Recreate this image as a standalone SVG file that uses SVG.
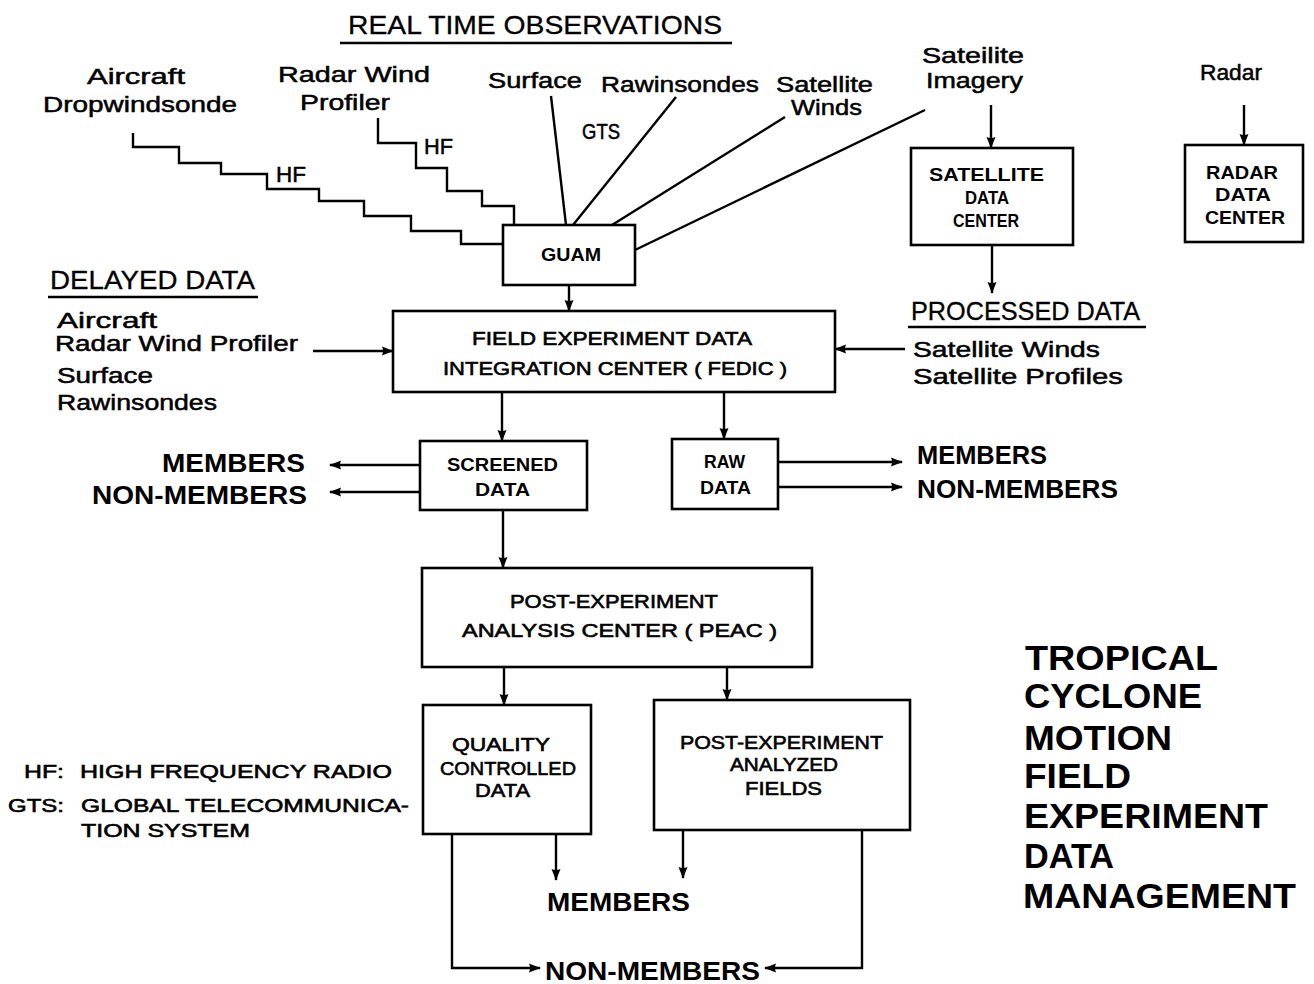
<svg xmlns="http://www.w3.org/2000/svg" width="1314" height="984" viewBox="0 0 1314 984">
  <defs>
    <marker id="arrow" viewBox="0 0 12 10" refX="11" refY="5" markerWidth="12" markerHeight="10" markerUnits="userSpaceOnUse" orient="auto">
      <path d="M0,0.5 Q6,3 12,5 Q6,7 0,9.5 Q2,5 0,0.5 Z" fill="#000"/>
    </marker>
    <style>
      .box { fill: #fff; stroke: #000; stroke-width: 2.6; }
      .ln { fill: none; stroke: #000; stroke-width: 2.4; stroke-linejoin: miter; }
      .arr { fill: none; stroke: #000; stroke-width: 2.4; marker-end: url(#arrow); }
      text { font-family: "Liberation Sans", "DejaVu Sans", sans-serif; fill: #000; }
      .lbl { font-size: 22px; stroke: #000; stroke-width: 0.5; }
      .hd { font-size: 26px; stroke: #000; stroke-width: 0.3; }
      .bx { font-size: 18px; font-weight: bold; }
      .bx2 { font-size: 19px; stroke: #000; stroke-width: 0.6; }
      .mem { font-size: 25px; font-weight: bold; }
      .leg { font-size: 19px; stroke: #000; stroke-width: 0.6; }
      .big { font-size: 35px; font-weight: bold; }
    </style>
  </defs>
  <rect width="1314" height="984" fill="#fff"/>

  <!-- headings -->
  <g id="headings">
    <text class="hd" x="348" y="34" textLength="374" lengthAdjust="spacingAndGlyphs">REAL TIME OBSERVATIONS</text>
    <line class="ln" x1="340" y1="43" x2="732" y2="43"/>
    <text class="hd" x="50" y="289" textLength="205" lengthAdjust="spacingAndGlyphs">DELAYED DATA</text>
    <line class="ln" x1="48" y1="297" x2="258" y2="297"/>
    <text class="hd" x="911" y="320" textLength="229" lengthAdjust="spacingAndGlyphs">PROCESSED DATA</text>
    <line class="ln" x1="908" y1="327" x2="1146" y2="327"/>
  </g>

  <!-- observation sources and link labels -->
  <g id="sources">
    <text class="lbl" x="87" y="84" textLength="98" lengthAdjust="spacingAndGlyphs">Aircraft</text>
    <text class="lbl" x="43" y="112" textLength="194" lengthAdjust="spacingAndGlyphs">Dropwindsonde</text>
    <text class="lbl" x="278" y="82" textLength="152" lengthAdjust="spacingAndGlyphs">Radar  Wind</text>
    <text class="lbl" x="300" y="110" textLength="90" lengthAdjust="spacingAndGlyphs">Profiler</text>
    <text class="lbl" x="488" y="88" textLength="94" lengthAdjust="spacingAndGlyphs">Surface</text>
    <text class="lbl" x="601" y="92" textLength="158" lengthAdjust="spacingAndGlyphs">Rawinsondes</text>
    <text class="lbl" x="776" y="92" textLength="97" lengthAdjust="spacingAndGlyphs">Satellite</text>
    <text class="lbl" x="791" y="115" textLength="71" lengthAdjust="spacingAndGlyphs">Winds</text>
    <text class="lbl" x="922" y="63" textLength="102" lengthAdjust="spacingAndGlyphs">Sateilite</text>
    <text class="lbl" x="926" y="88" textLength="97" lengthAdjust="spacingAndGlyphs">Imagery</text>
    <text class="lbl" x="1200" y="80" textLength="62" lengthAdjust="spacingAndGlyphs">Radar</text>
    <text class="lbl" x="276" y="182" textLength="30" lengthAdjust="spacingAndGlyphs">HF</text>
    <text class="lbl" x="424" y="154" textLength="29" lengthAdjust="spacingAndGlyphs">HF</text>
    <text class="lbl" x="582" y="139" textLength="38" lengthAdjust="spacingAndGlyphs">GTS</text>

    <text class="lbl" x="57" y="328" textLength="100" lengthAdjust="spacingAndGlyphs">Aircraft</text>
    <text class="lbl" x="55" y="351" textLength="243" lengthAdjust="spacingAndGlyphs">Radar Wind Profiler</text>
    <text class="lbl" x="57" y="383" textLength="96" lengthAdjust="spacingAndGlyphs">Surface</text>
    <text class="lbl" x="57" y="410" textLength="160" lengthAdjust="spacingAndGlyphs">Rawinsondes</text>

    <text class="lbl" x="913" y="357" textLength="187" lengthAdjust="spacingAndGlyphs">Satellite  Winds</text>
    <text class="lbl" x="913" y="384" textLength="210" lengthAdjust="spacingAndGlyphs">Satellite  Profiles</text>
  </g>

  <!-- connectors -->
  <g id="connectors">
    <polyline class="ln" points="133,133 133,147 179,147 179,163 221,163 221,174 267,174 267,189 319,189 319,201 364,201 364,216 411,216 411,231 461,231 461,244 503,244"/>
    <polyline class="ln" points="378,118 378,143 416,143 416,168 447,168 447,191 482,191 482,206 514,206 514,225"/>
    <line class="ln" x1="551" y1="96" x2="566" y2="225"/>
    <line class="ln" x1="676" y1="97" x2="573" y2="225"/>
    <line class="ln" x1="785" y1="117" x2="612" y2="225"/>
    <line class="ln" x1="925" y1="110" x2="635" y2="250"/>
    <line class="arr" x1="569" y1="285" x2="569" y2="311"/>
    <line class="arr" x1="991" y1="105" x2="991" y2="148"/>
    <line class="arr" x1="992" y1="245" x2="992" y2="293"/>
    <line class="arr" x1="1244" y1="105" x2="1244" y2="145"/>
    <line class="arr" x1="313" y1="351" x2="393" y2="351"/>
    <line class="arr" x1="905" y1="349" x2="835" y2="349"/>
    <line class="arr" x1="502" y1="392" x2="502" y2="441"/>
    <line class="arr" x1="724" y1="392" x2="724" y2="439"/>
    <line class="arr" x1="420" y1="465" x2="330" y2="465"/>
    <line class="arr" x1="420" y1="492" x2="330" y2="492"/>
    <line class="arr" x1="778" y1="462" x2="902" y2="462"/>
    <line class="arr" x1="778" y1="487" x2="902" y2="487"/>
    <line class="arr" x1="503" y1="510" x2="503" y2="568"/>
    <line class="arr" x1="504" y1="667" x2="504" y2="705"/>
    <line class="arr" x1="727" y1="667" x2="727" y2="700"/>
    <line class="arr" x1="556" y1="834" x2="556" y2="880"/>
    <line class="arr" x1="683" y1="830" x2="683" y2="878"/>
    <polyline class="arr" points="452,834 452,968 540,968"/>
    <polyline class="arr" points="862,830 862,968 765,968"/>
  </g>

  <!-- nodes -->
  <g id="guam">
    <rect class="box" x="503" y="225" width="132" height="60"/>
    <text class="bx" x="541" y="261" textLength="60" lengthAdjust="spacingAndGlyphs">GUAM</text>
  </g>
  <g id="satellite-data-center">
    <rect class="box" x="911" y="148" width="162" height="97"/>
    <text class="bx" x="929" y="181" textLength="115" lengthAdjust="spacingAndGlyphs">SATELLITE</text>
    <text class="bx" x="965" y="204" textLength="44" lengthAdjust="spacingAndGlyphs">DATA</text>
    <text class="bx" x="953" y="227" textLength="66" lengthAdjust="spacingAndGlyphs">CENTER</text>
  </g>
  <g id="radar-data-center">
    <rect class="box" x="1185" y="145" width="118" height="97"/>
    <text class="bx" x="1206" y="179" textLength="72" lengthAdjust="spacingAndGlyphs">RADAR</text>
    <text class="bx" x="1215" y="201" textLength="56" lengthAdjust="spacingAndGlyphs">DATA</text>
    <text class="bx" x="1205" y="224" textLength="80" lengthAdjust="spacingAndGlyphs">CENTER</text>
  </g>
  <g id="fedic">
    <rect class="box" x="393" y="311" width="442" height="81"/>
    <text class="bx2" x="472" y="345" textLength="280" lengthAdjust="spacingAndGlyphs">FIELD EXPERIMENT DATA</text>
    <text class="bx2" x="443" y="375" textLength="344" lengthAdjust="spacingAndGlyphs">INTEGRATION CENTER ( FEDIC )</text>
  </g>
  <g id="screened-data">
    <rect class="box" x="420" y="441" width="167" height="69"/>
    <text class="bx" x="447" y="471" textLength="111" lengthAdjust="spacingAndGlyphs">SCREENED</text>
    <text class="bx" x="475" y="496" textLength="55" lengthAdjust="spacingAndGlyphs">DATA</text>
  </g>
  <g id="raw-data">
    <rect class="box" x="672" y="439" width="106" height="70"/>
    <text class="bx" x="704" y="468" textLength="41" lengthAdjust="spacingAndGlyphs">RAW</text>
    <text class="bx" x="700" y="494" textLength="51" lengthAdjust="spacingAndGlyphs">DATA</text>
  </g>
  <g id="peac">
    <rect class="box" x="422" y="568" width="390" height="99"/>
    <text class="bx2" x="510" y="608" textLength="208" lengthAdjust="spacingAndGlyphs">POST-EXPERIMENT</text>
    <text class="bx2" x="462" y="637" textLength="315" lengthAdjust="spacingAndGlyphs">ANALYSIS CENTER ( PEAC )</text>
  </g>
  <g id="quality-controlled-data">
    <rect class="box" x="423" y="705" width="168" height="129"/>
    <text class="bx2" x="452" y="751" textLength="98" lengthAdjust="spacingAndGlyphs">QUALITY</text>
    <text class="bx2" x="440" y="775" textLength="136" lengthAdjust="spacingAndGlyphs">CONTROLLED</text>
    <text class="bx2" x="475" y="797" textLength="55" lengthAdjust="spacingAndGlyphs">DATA</text>
  </g>
  <g id="post-experiment-analyzed-fields">
    <rect class="box" x="654" y="700" width="256" height="130"/>
    <text class="bx2" x="680" y="749" textLength="203" lengthAdjust="spacingAndGlyphs">POST-EXPERIMENT</text>
    <text class="bx2" x="730" y="771" textLength="108" lengthAdjust="spacingAndGlyphs">ANALYZED</text>
    <text class="bx2" x="745" y="795" textLength="77" lengthAdjust="spacingAndGlyphs">FIELDS</text>
  </g>

  <!-- recipients -->
  <g id="recipients">
    <text class="mem" x="162" y="472" textLength="143" lengthAdjust="spacingAndGlyphs">MEMBERS</text>
    <text class="mem" x="92" y="504" textLength="215" lengthAdjust="spacingAndGlyphs">NON-MEMBERS</text>
    <text class="mem" x="917" y="464" textLength="130" lengthAdjust="spacingAndGlyphs">MEMBERS</text>
    <text class="mem" x="917" y="498" textLength="201" lengthAdjust="spacingAndGlyphs">NON-MEMBERS</text>
    <text class="mem" x="547" y="911" textLength="143" lengthAdjust="spacingAndGlyphs">MEMBERS</text>
    <text class="mem" x="545" y="980" textLength="215" lengthAdjust="spacingAndGlyphs">NON-MEMBERS</text>
  </g>

  <!-- abbreviations -->
  <g id="legend">
    <text class="leg" x="24" y="778" textLength="40" lengthAdjust="spacingAndGlyphs">HF:</text>
    <text class="leg" x="80" y="778" textLength="312" lengthAdjust="spacingAndGlyphs">HIGH FREQUENCY RADIO</text>
    <text class="leg" x="8" y="812" textLength="56" lengthAdjust="spacingAndGlyphs">GTS:</text>
    <text class="leg" x="81" y="812" textLength="328" lengthAdjust="spacingAndGlyphs">GLOBAL TELECOMMUNICA-</text>
    <text class="leg" x="81" y="837" textLength="169" lengthAdjust="spacingAndGlyphs">TION SYSTEM</text>
  </g>

  <!-- title block -->
  <g id="title">
    <text class="big" x="1025" y="670" textLength="193" lengthAdjust="spacingAndGlyphs">TROPICAL</text>
    <text class="big" x="1024" y="708" textLength="178" lengthAdjust="spacingAndGlyphs">CYCLONE</text>
    <text class="big" x="1024" y="750" textLength="148" lengthAdjust="spacingAndGlyphs">MOTION</text>
    <text class="big" x="1024" y="788" textLength="107" lengthAdjust="spacingAndGlyphs">FIELD</text>
    <text class="big" x="1024" y="828" textLength="244" lengthAdjust="spacingAndGlyphs">EXPERIMENT</text>
    <text class="big" x="1024" y="868" textLength="90" lengthAdjust="spacingAndGlyphs">DATA</text>
    <text class="big" x="1023" y="908" textLength="273" lengthAdjust="spacingAndGlyphs">MANAGEMENT</text>
  </g>
</svg>
